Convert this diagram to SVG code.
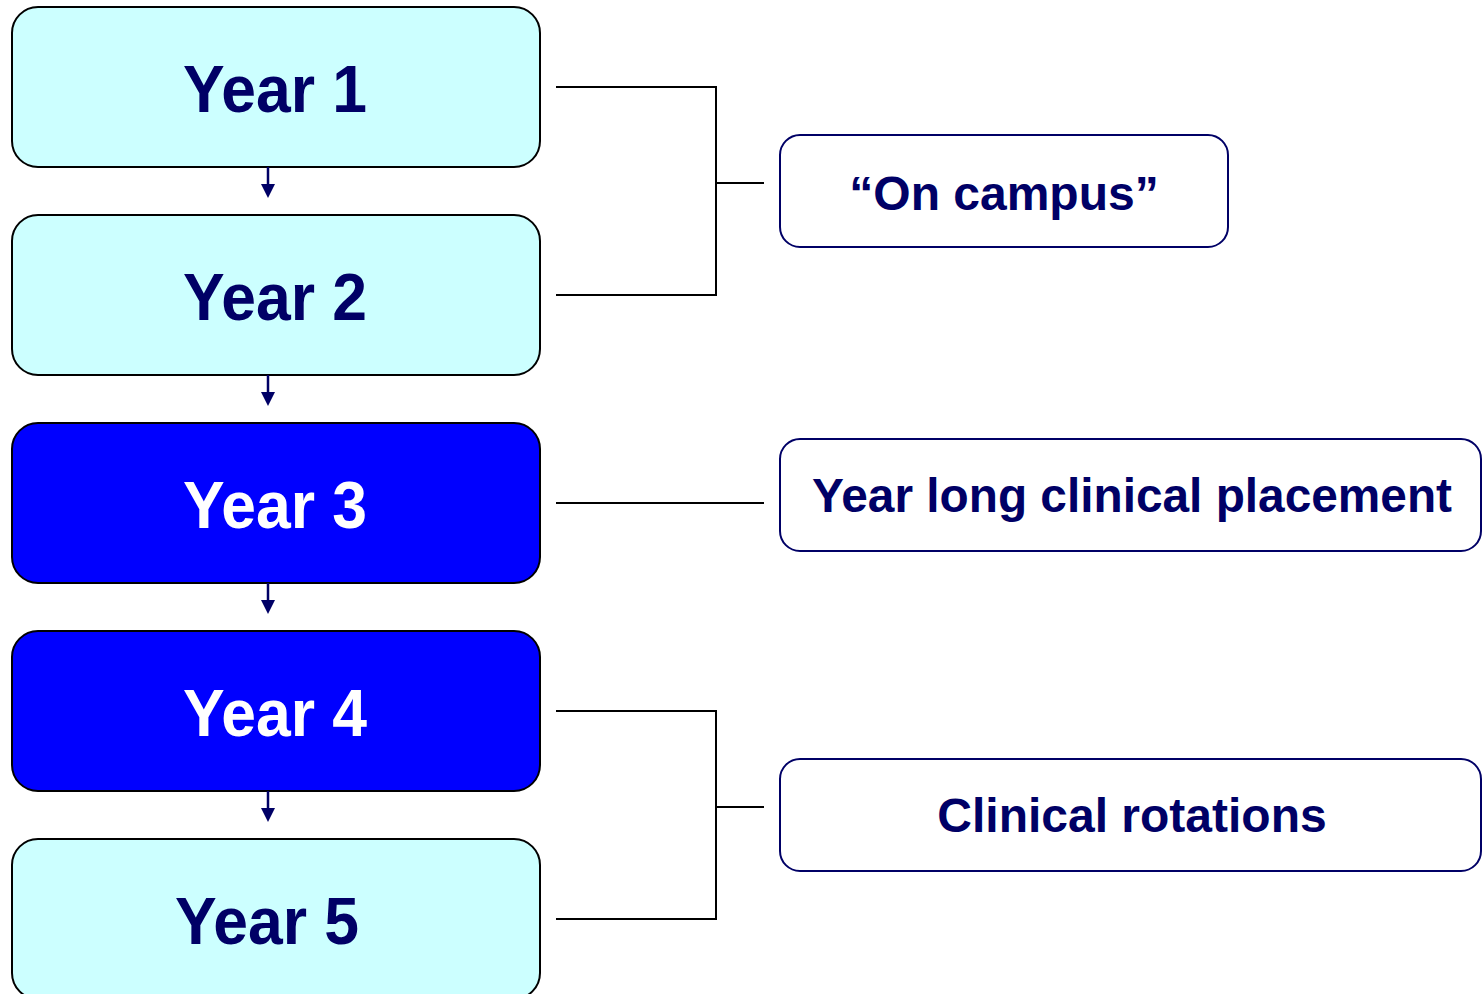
<svg xmlns="http://www.w3.org/2000/svg" width="1483" height="994" viewBox="0 0 1483 994">
<defs>
<style>
.yr{stroke:#000;stroke-width:2}
.lt{fill:#CCFFFF}
.dk{fill:#0000FF}
.lab{stroke:#000066;stroke-width:2;fill:#fff}
.t{font-family:"Liberation Sans",Arial,sans-serif;font-weight:bold}
.ty{font-size:66px}
.tl{font-size:48px}
.nv{fill:#000066}
.wh{fill:#fff}
.con{stroke:#000;stroke-width:2;fill:none}
.arr{stroke:#000066;stroke-width:2.5;fill:none}
</style>
</defs>
<rect width="1483" height="994" fill="#fff"/>
<g id="year1"><rect class="yr lt" x="12" y="7" width="528" height="160" rx="26"/><text class="t ty nv" x="183" y="112" textLength="184" lengthAdjust="spacingAndGlyphs">Year 1</text></g>
<g id="year2"><rect class="yr lt" x="12" y="215" width="528" height="160" rx="26"/><text class="t ty nv" x="183" y="320" textLength="184" lengthAdjust="spacingAndGlyphs">Year 2</text></g>
<g id="year3"><rect class="yr dk" x="12" y="423" width="528" height="160" rx="26"/><text class="t ty wh" x="183" y="528" textLength="184" lengthAdjust="spacingAndGlyphs">Year 3</text></g>
<g id="year4"><rect class="yr dk" x="12" y="631" width="528" height="160" rx="26"/><text class="t ty wh" x="183" y="736" textLength="184" lengthAdjust="spacingAndGlyphs">Year 4</text></g>
<g id="year5"><rect class="yr lt" x="12" y="839" width="528" height="160" rx="26"/><text class="t ty nv" x="175" y="944" textLength="184" lengthAdjust="spacingAndGlyphs">Year 5</text></g>
<g id="oncampus"><rect class="lab" x="780" y="135" width="448" height="112" rx="20"/><text class="t tl nv" x="1004" y="210" text-anchor="middle">“On campus”</text></g>
<g id="placement"><rect class="lab" x="780" y="439" width="701" height="112" rx="20"/><text class="t tl nv" x="812" y="512" textLength="640" lengthAdjust="spacingAndGlyphs">Year long clinical placement</text></g>
<g id="rotations"><rect class="lab" x="780" y="759" width="701" height="112" rx="20"/><text class="t tl nv" x="1132" y="832" text-anchor="middle">Clinical rotations</text></g>
<g id="connectors">
<path class="con" d="M556 87H716V295H556M716 183H764"/>
<path class="con" d="M556 503H764"/>
<path class="con" d="M556 711H716V919H556M716 807H764"/>
<g fill="#000066">
<path class="arr" d="M268 167V186"/><path d="M261 184H275L268 198Z"/>
<path class="arr" d="M268 375V394"/><path d="M261 392H275L268 406Z"/>
<path class="arr" d="M268 583V602"/><path d="M261 600H275L268 614Z"/>
<path class="arr" d="M268 791V810"/><path d="M261 808H275L268 822Z"/>
</g>
</g>
</svg>
